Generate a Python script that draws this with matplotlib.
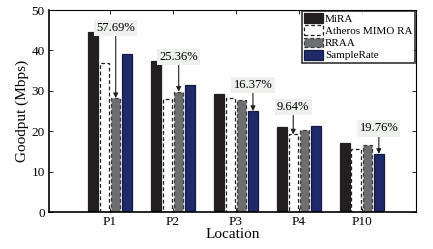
"""
Goodput per location for four rate adaptation schemes
"""

import numpy as np
import matplotlib
matplotlib.use('Agg')
import matplotlib.pyplot as plt

# data
locations = ['P1', 'P2', 'P3', 'P4', 'P10']
schemes = ['MiRA', 'Atheros MIMO RA', 'RRAA', 'SampleRate']
mira = [44.5, 37.4, 29.1, 21.0, 17.2]
atheros = [36.8, 27.9, 28.1, 19.2, 15.5]
rraa = [28.2, 29.8, 27.8, 20.3, 16.5]
samplerate = [39.1, 31.5, 25.0, 21.2, 14.4]

# gain labels: text, which bar the arrow points at, height of the label
gain_text = ['57.69%', '25.36%', '16.37%', '9.64%', '19.76%']
gain_target = [2, 2, 3, 1, 3]
gain_y = [45.5, 38.4, 31.4, 26.0, 20.7]

plt.rcParams['font.family'] = ['Liberation Serif', 'DejaVu Serif']

fig = plt.figure(figsize=(4.33, 2.49), dpi=100)
ax = fig.add_axes([49 / 433, 1 - 212 / 249, (416 - 49) / 433, (212 - 10) / 249])

x = np.arange(1, len(locations) + 1)
pitch = 0.18
width = 0.15
series = [mira, atheros, rraa, samplerate]
faces = ['#231f20', 'white', '#6d6e70', '#1f2a6a']
edges = ['#231f20', '#231f20', '#3a3a3c', '#14193f']
styles = ['solid', (0, (3, 2)), (0, (3, 2)), 'solid']

for i, (vals, name) in enumerate(zip(series, schemes)):
    off = (i - 1.5) * pitch
    ax.bar(x + off, vals, width, color=faces[i], edgecolor=edges[i],
           linewidth=0.9, linestyle=styles[i], label=name, zorder=2)

for k in range(len(locations)):
    j = gain_target[k]
    bx = x[k] + (j - 1.5) * pitch
    top = series[j][k]
    ax.annotate(gain_text[k], xy=(bx, top), xytext=(bx, gain_y[k]),
                ha='center', va='center', fontsize=9,
                bbox=dict(boxstyle='square,pad=0.18', fc='#eef0ee', ec='none'),
                arrowprops=dict(arrowstyle='-|>', color='#231f20', lw=0.8,
                                mutation_scale=7, shrinkA=0, shrinkB=0),
                zorder=4)

ax.set_xlim(0.03, 5.86)
ax.set_ylim(0, 50)
ax.set_xticks(x)
ax.set_xticklabels(locations)
ax.set_yticks([0, 10, 20, 30, 40, 50])
ax.tick_params(direction='in', top=True, right=True, labelsize=9.5,
               length=3, width=0.6, pad=3)
for s in ax.spines.values():
    s.set_linewidth(0.8)
ax.spines['bottom'].set_linewidth(1.2)
ax.spines['left'].set_linewidth(1.2)

ax.set_xlabel('Location', fontsize=11, labelpad=0)
ax.set_ylabel('Goodput (Mbps)', fontsize=11, labelpad=2)

leg = ax.legend(loc='upper right', fontsize=8, frameon=True, fancybox=False,
                borderpad=0.2, labelspacing=0.12, handlelength=1.7,
                handleheight=1.0, handletextpad=0.2, borderaxespad=0.1)
leg.get_frame().set_edgecolor('black')
leg.get_frame().set_linewidth(1.2)

fig.savefig('out.png', dpi=100)
